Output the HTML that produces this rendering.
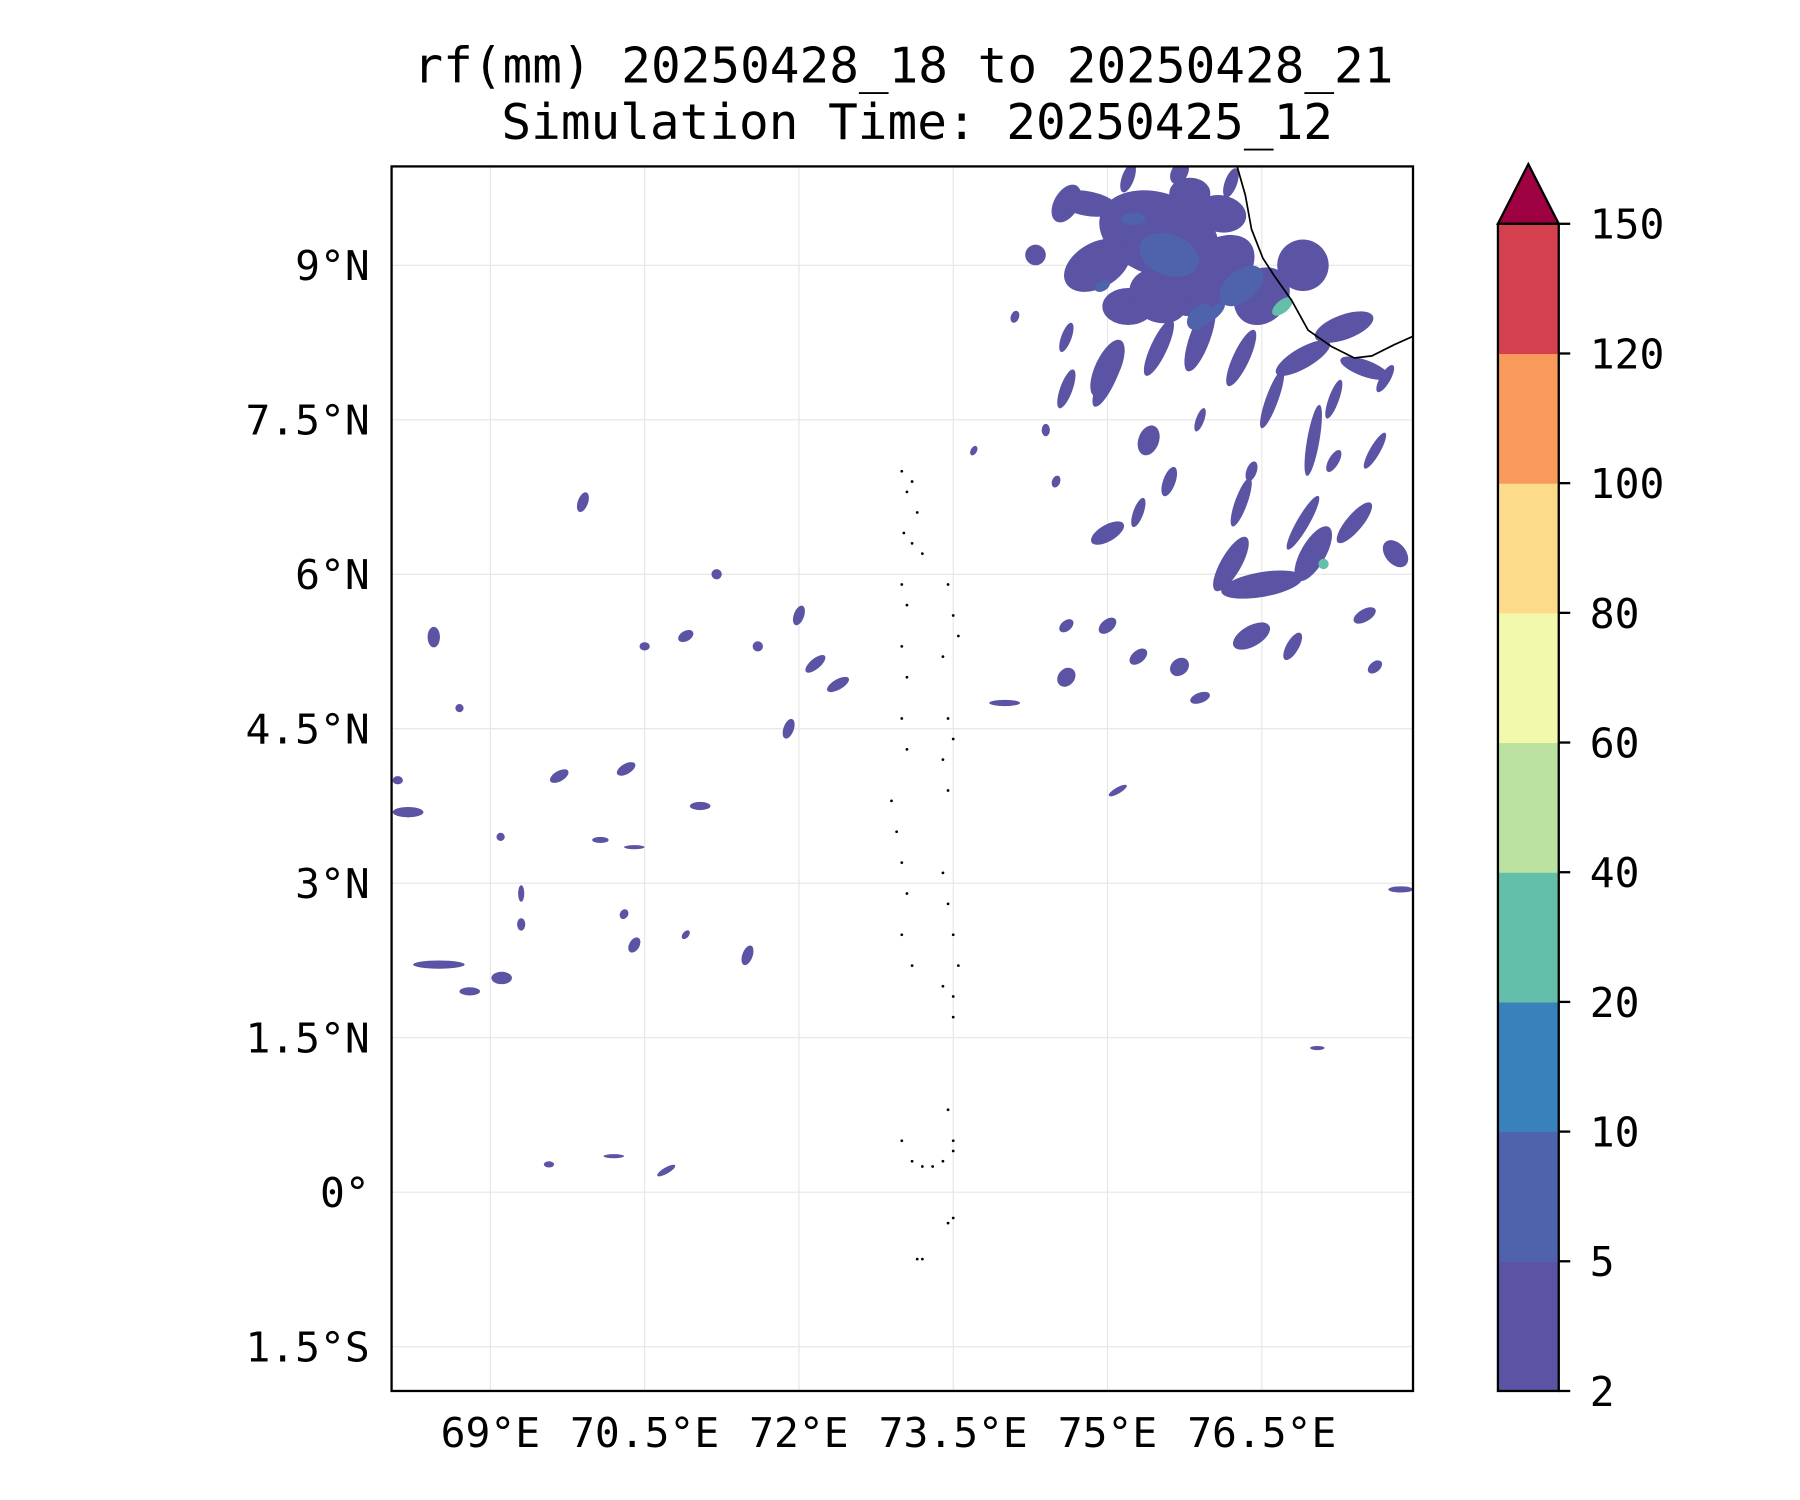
<!DOCTYPE html>
<html><head><meta charset="utf-8"><style>
html,body{margin:0;padding:0;background:#fff;}
svg{display:block;font-family:"DejaVu Sans Mono","Liberation Mono",monospace;}
</style></head><body>
<svg id="chart" width="1800" height="1500" viewBox="0 0 1568 1307" xmlns="http://www.w3.org/2000/svg">
<text x="787" y="72" font-size="43" text-anchor="middle">rf(mm) 20250428_18 to 20250428_21</text>
<text x="799" y="121" font-size="43" text-anchor="middle">Simulation Time: 20250425_12</text>
<defs><clipPath id="pc"><rect x="341" y="145" width="890" height="1067"/></clipPath></defs>
<g id="grid"></g>
<g id="rain" clip-path="url(#pc)"></g>
<g id="coast" clip-path="url(#pc)"></g>
<rect x="341" y="145" width="890" height="1067" fill="none" stroke="#000" stroke-width="2"/>
<g id="ticks"></g>
<g id="cbar"></g>
</svg>
<script>
const lonTicks=[69,70.5,72,73.5,75,76.5];
const lonLabels=["69°E","70.5°E","72°E","73.5°E","75°E","76.5°E"];
const latTicks=[9,7.5,6,4.5,3,1.5,0,-1.5];
const latLabels=["9°N","7.5°N","6°N","4.5°N","3°N","1.5°N","0°","1.5°S"];
const levels=[2,5,10,20,40,60,80,100,120,150];
const levelColors=["#5b53a4","#4e63ac","#3981ba","#64bfaa","#bbe2a0","#f3f9ac","#fcdc8a","#f89b5a","#d5404e"];
const extendColor="#9e0142";
// blobs: lon, lat, rx(deg), ry(deg), rotation, level index
const blobLon=[75.5,74.9,75.2,76.0,76.5,76.9,77.5,75.9,75.5,76.3,75.0,74.6,74.3,74.6,76.6,77.0,77.6,75.6,76.3,76.9,77.4,77.8,76.5,76.2,77.0,75.0,75.3,76.4,76.8,75.7,75.3,75.0,74.6,74.6,77.5,77.6,75.9,74.0,75.1,68.45,68.2,68.5,69.11,68.8,70.32,69.67,72.38,72.16,71.04,70.07,70.4,69.1,69.57,70.2,70.71,68.0,77.85,77.04,71.6,72.0,70.4,69.3,68.7,71.5,70.9,69.9,71.2,75.5,74.8,76.9,77.3,75.0,75.4,75.8,76.1,77.2,68.1,70.5,71.9,75.6,76.3,75.9,76.7,77.1,75.25,74.95,76.05,75.2,75.7,76.2,74.6,77.2,77.7,75.9,76.4,74.4,73.7,74.5,74.1,69.3,70.3,70.9];
const blobLat=[9.3,9.0,8.6,8.9,8.7,8.1,8.0,8.3,8.2,8.1,7.9,9.6,9.1,7.8,7.7,7.3,7.2,6.9,6.7,6.5,6.5,6.2,5.9,6.1,6.2,6.4,6.6,5.4,5.3,5.1,5.2,5.5,5.0,5.5,5.6,5.1,4.8,4.75,3.9,5.39,3.69,2.21,2.08,1.95,4.11,4.04,4.93,5.13,3.75,3.42,3.35,3.45,0.27,0.35,0.21,0.2,2.94,1.40,5.3,5.6,2.4,2.6,4.7,2.3,5.4,6.7,6.0,8.7,9.6,9.0,8.4,8.0,7.3,9.7,9.5,7.1,4.0,5.3,4.5,9.1,8.8,8.5,8.6,6.1,9.45,8.8,8.55,9.85,9.9,9.8,8.3,7.7,7.9,7.5,7.0,7.4,7.2,6.9,8.5,2.9,2.7,2.5];
const blobRx=[0.6,0.35,0.25,0.5,0.3,0.3,0.25,0.1,0.08,0.08,0.08,0.12,0.1,0.06,0.06,0.06,0.05,0.06,0.06,0.06,0.08,0.1,0.4,0.1,0.12,0.18,0.05,0.2,0.06,0.1,0.1,0.1,0.1,0.08,0.12,0.08,0.1,0.15,0.1,0.06,0.15,0.25,0.1,0.1,0.1,0.1,0.12,0.12,0.1,0.08,0.1,0.04,0.05,0.1,0.1,0.04,0.12,0.07,0.05,0.05,0.05,0.04,0.04,0.05,0.08,0.05,0.05,0.3,0.3,0.25,0.3,0.12,0.1,0.2,0.25,0.05,0.05,0.05,0.05,0.3,0.25,0.15,0.12,0.05,0.12,0.08,0.12,0.06,0.08,0.06,0.05,0.05,0.05,0.04,0.05,0.04,0.03,0.04,0.04,0.03,0.04,0.03];
const blobRy=[0.4,0.22,0.18,0.3,0.25,0.1,0.08,0.35,0.3,0.3,0.3,0.2,0.1,0.2,0.3,0.35,0.2,0.15,0.25,0.3,0.25,0.15,0.12,0.3,0.3,0.08,0.15,0.1,0.15,0.08,0.06,0.06,0.08,0.05,0.06,0.05,0.05,0.03,0.03,0.1,0.05,0.04,0.06,0.04,0.05,0.05,0.05,0.05,0.04,0.03,0.02,0.04,0.03,0.02,0.03,0.03,0.03,0.02,0.05,0.1,0.08,0.06,0.04,0.1,0.05,0.1,0.05,0.25,0.12,0.25,0.12,0.3,0.15,0.15,0.18,0.12,0.04,0.04,0.1,0.2,0.15,0.1,0.06,0.05,0.06,0.05,0.05,0.15,0.12,0.15,0.15,0.2,0.15,0.12,0.1,0.06,0.05,0.06,0.06,0.08,0.05,0.05];
const blobRot=[20,-30,0,-40,-50,-30,20,20,25,25,25,30,0,20,20,10,30,20,20,30,40,-40,-10,30,30,-30,20,-30,30,-40,-40,-40,-50,-40,-30,-40,-20,0,-30,0,0,0,0,0,-30,-30,-30,-40,0,0,0,0,0,0,-30,0,0,0,0,20,30,0,0,20,-30,20,0,30,10,-40,-20,25,20,0,10,30,0,0,20,20,-40,-45,-40,0,0,-30,-45,20,30,20,20,20,30,20,20,0,30,20,20,0,30,40];
const blobLevel=[0,0,0,0,0,0,0,0,0,0,0,0,0,0,0,0,0,0,0,0,0,0,0,0,0,0,0,0,0,0,0,0,0,0,0,0,0,0,0,0,0,0,0,0,0,0,0,0,0,0,0,0,0,0,0,0,0,0,0,0,0,0,0,0,0,0,0,0,0,0,0,0,0,0,0,0,0,0,0,1,1,1,3,3,1,1,1,0,0,0,0,0,0,0,0,0,0,0,0,0,0,0];
// coastline (lon, lat)
const coastLon=[76.26,76.34,76.40,76.51,76.62,76.79,76.95,77.18,77.40,77.57,77.79,77.97];
const coastLat=[9.96,9.68,9.35,9.07,8.90,8.66,8.37,8.21,8.10,8.12,8.23,8.31];
// islands (lon, lat)
const islandLon=[73.0,73.05,73.1,73.15,73.02,73.1,73.2,73.0,73.05,73.45,73.5,73.55,73.0,73.05,73.4,73.45,73.5,73.0,73.05,73.4,73.45,72.9,72.95,73.0,73.05,73.4,73.45,73.5,73.55,73.0,73.1,73.4,73.5,73.5,73.45,73.5,73.0,73.1,73.2,73.3,73.4,73.5,73.45,73.5,73.15,73.2];
const islandLat=[7.0,6.8,6.9,6.6,6.4,6.3,6.2,5.9,5.7,5.9,5.6,5.4,5.3,5.0,5.2,4.6,4.4,4.6,4.3,4.2,3.9,3.8,3.5,3.2,2.9,3.1,2.8,2.5,2.2,2.5,2.2,2.0,1.9,1.7,0.8,0.5,0.5,0.3,0.25,0.25,0.3,0.4,-0.3,-0.25,-0.65,-0.65];
const lonMin=68.04,lonMax=77.97,latMin=-1.93,latMax=9.96;
const X0=341,X1=1231,Y0=145,Y1=1212;
const NS="http://www.w3.org/2000/svg";
function xs(lon){return X0+(lon-lonMin)/(lonMax-lonMin)*(X1-X0);}
function ys(lat){return Y1-(lat-latMin)/(latMax-latMin)*(Y1-Y0);}
const pxDegX=(X1-X0)/(lonMax-lonMin), pxDegY=(Y1-Y0)/(latMax-latMin);
function mk(tag,attrs,parent){const e=document.createElementNS(NS,tag);for(const k in attrs)e.setAttribute(k,attrs[k]);parent.appendChild(e);return e;}
const grid=document.getElementById('grid'),ticks=document.getElementById('ticks');
lonTicks.forEach((v,i)=>{
  const l=mk('line',{x1:xs(v),x2:xs(v),y1:Y0,y2:Y1,stroke:'#e6e6e6','stroke-width':1},grid);
  
  
  const t=mk('text',{x:xs(v),y:1261,'font-size':36,'text-anchor':'middle'},ticks);
  t.textContent=lonLabels[i];
  
  
});
latTicks.forEach((v,i)=>{
  const l=mk('line',{x1:X0,x2:X1,y1:ys(v),y2:ys(v),stroke:'#e6e6e6','stroke-width':1},grid);
  
  
  const t=mk('text',{x:322,y:ys(v)+13,'font-size':36,'text-anchor':'end'},ticks);
  t.textContent=latLabels[i];
  
  
});
const rain=document.getElementById('rain');
blobLon.forEach((lon,i)=>{
  const e=mk('ellipse',{cx:xs(lon),cy:ys(blobLat[i]),rx:blobRx[i]*pxDegX,ry:blobRy[i]*pxDegY,fill:levelColors[blobLevel[i]],transform:`rotate(${blobRot[i]} ${xs(lon)} ${ys(blobLat[i])})`},rain);
  
  
});
const coast=document.getElementById('coast');
const cp=mk('polyline',{points:coastLon.map((v,i)=>xs(v)+','+ys(coastLat[i])).join(' '),fill:'none',stroke:'#000','stroke-width':1.5},coast);


islandLon.forEach((v,i)=>{
  const c=mk('circle',{cx:xs(v),cy:ys(islandLat[i]),r:1.2,fill:'#000'},coast);
  
  
});
const cb=document.getElementById('cbar');
const CX=1305,CW=53,CT=195,CB=1212,seg=(CB-CT)/(levels.length-1);
levelColors.forEach((c,i)=>{
  const r=mk('rect',{x:CX,y:CB-(i+1)*seg,width:CW,height:seg+0.5,fill:c},cb);
  
  
});
const tri=mk('polygon',{points:`${CX},${CT} ${CX+CW/2},143 ${CX+CW},${CT}`,fill:extendColor,stroke:'#000','stroke-width':2},cb);


mk('rect',{x:CX,y:CT,width:CW,height:CB-CT,fill:'none',stroke:'#000','stroke-width':2},cb);
levels.forEach((v,i)=>{
  const y=CB-i*seg;
  mk('line',{x1:CX+CW,x2:CX+CW+10,y1:y,y2:y,stroke:'#000','stroke-width':2},cb);
  const t=mk('text',{x:1385,y:y+13,'font-size':36},cb);
  t.textContent=v;
  
  
});
</script>
</body></html>
